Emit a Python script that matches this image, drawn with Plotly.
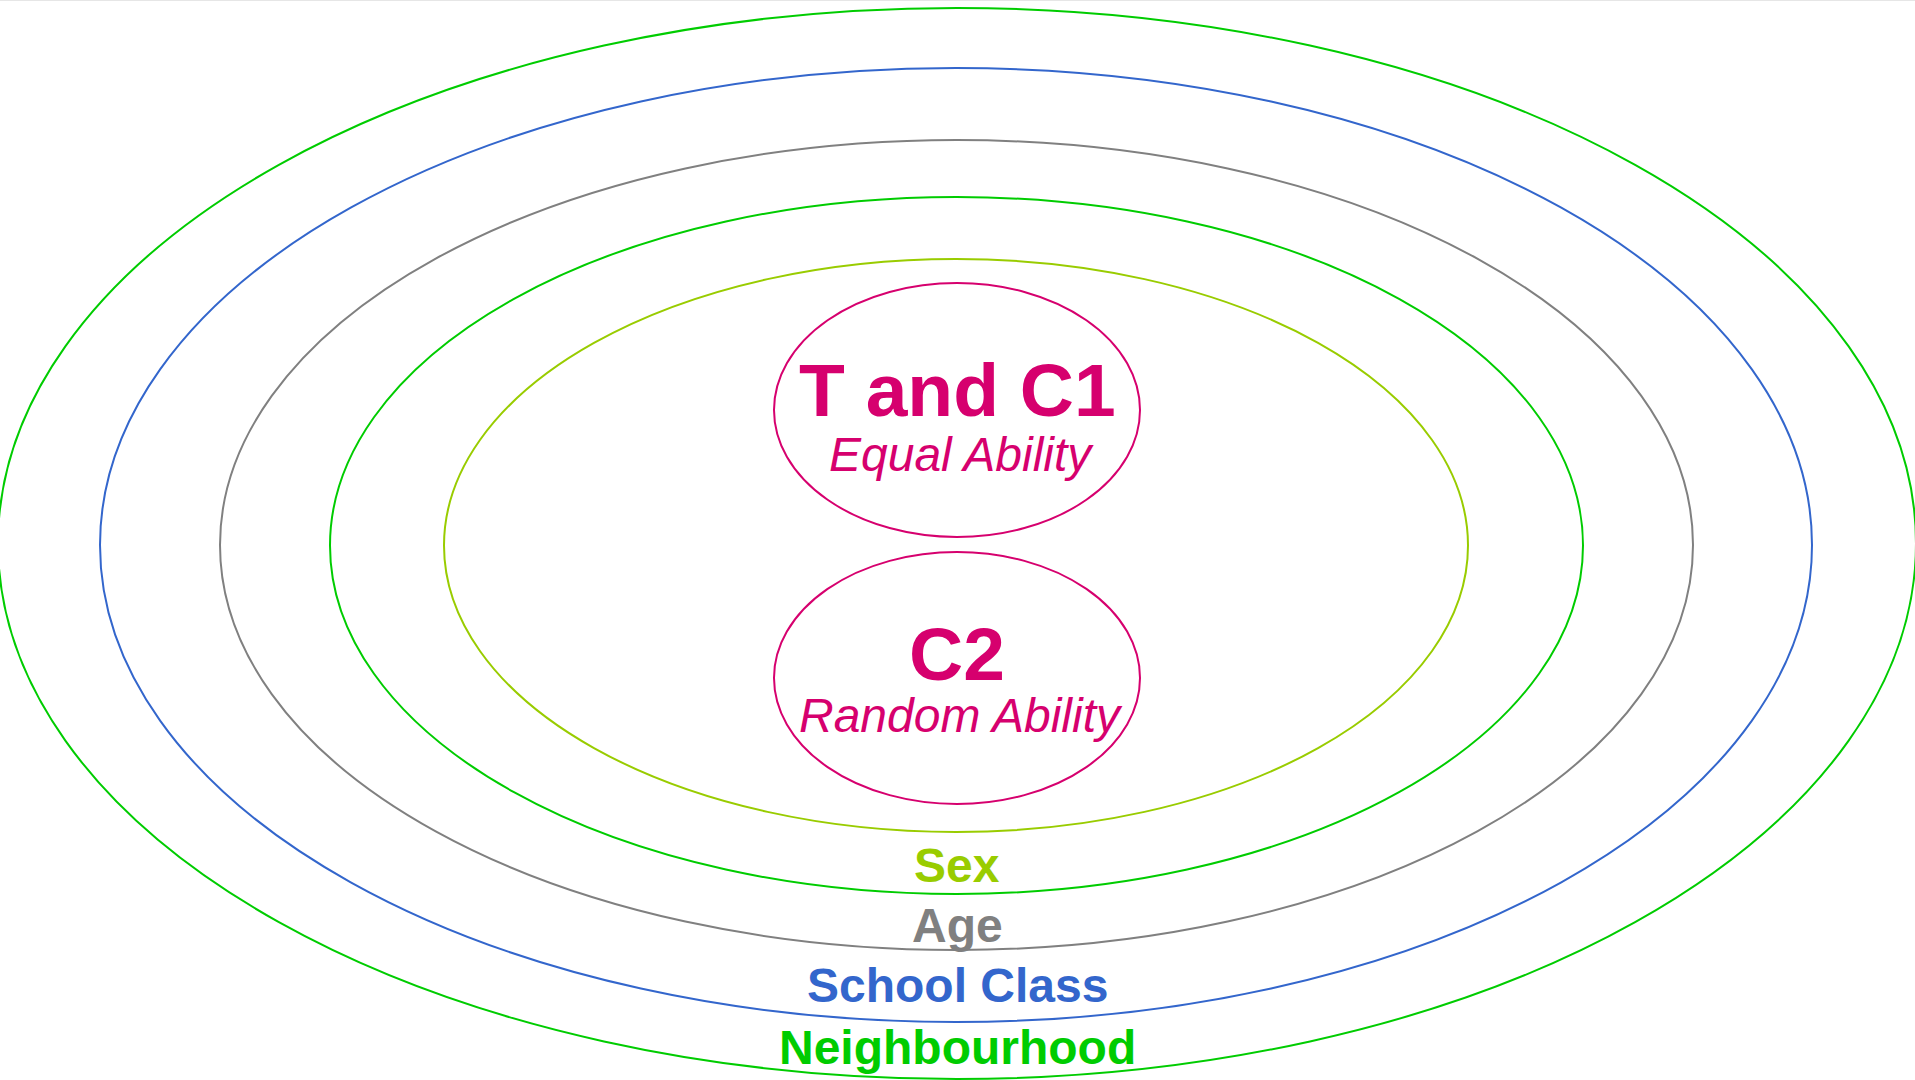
import plotly.graph_objects as go

# Nested context rings (outermost first), in pixel-like data coordinates
ring_colors = ["#00CC00", "#3366CC", "#808080", "#00CC00", "#99CC00"]
ring_x0 = [-2, 100, 220, 330, 444]
ring_x1 = [1916, 1812, 1693, 1583, 1468]
ring_y0 = [8, 68, 140, 197, 259]
ring_y1 = [1079, 1022, 950, 894, 832]

# Ring labels
label_names = ["Neighbourhood", "School Class", "Age", "Sex"]
label_colors = ["#00CC00", "#3366CC", "#808080", "#99CC00"]
label_y = [1047, 985, 925, 865]

# Inner groups
group_names = ["T and C1", "C2"]
group_subtitles = ["Equal Ability", "Random Ability"]
group_x0 = [774, 774]
group_x1 = [1140, 1140]
group_y0 = [283, 552]
group_y1 = [537, 804]
group_title_y = [390, 654]
group_sub_y = [454, 715]

pink = "#D6006E"
font_family = "Liberation Sans, Arial, sans-serif"
cx = 957

fig = go.Figure()
# invisible trace to establish axes
fig.add_trace(go.Scatter(x=[0, 1915], y=[0, 1080], mode="markers",
                         marker=dict(opacity=0), hoverinfo="skip", showlegend=False))

shapes = []
for i in range(len(ring_colors)):
    shapes.append(dict(type="circle", xref="x", yref="y",
                       x0=ring_x0[i], x1=ring_x1[i], y0=ring_y0[i], y1=ring_y1[i],
                       line=dict(color=ring_colors[i], width=2)))
for i in range(len(group_names)):
    shapes.append(dict(type="circle", xref="x", yref="y",
                       x0=group_x0[i], x1=group_x1[i], y0=group_y0[i], y1=group_y1[i],
                       line=dict(color=pink, width=2)))
# thin top border line
shapes.append(dict(type="line", xref="paper", yref="paper", x0=0, x1=1, y0=1, y1=1,
                   line=dict(color="#E6E6E6", width=2)))

annotations = []
for i in range(len(label_names)):
    annotations.append(dict(x=cx, y=label_y[i], xref="x", yref="y",
                            text=f"<b>{label_names[i]}</b>", showarrow=False,
                            xanchor="center", yanchor="middle",
                            font=dict(family=font_family, size=48, color=label_colors[i])))
for i in range(len(group_names)):
    annotations.append(dict(x=cx, y=group_title_y[i], xref="x", yref="y",
                            text=f"<b>{group_names[i]}</b>", showarrow=False,
                            xanchor="center", yanchor="middle",
                            font=dict(family=font_family, size=75, color=pink)))
    annotations.append(dict(x=cx + 4, y=group_sub_y[i], xref="x", yref="y",
                            text=f"<i>{group_subtitles[i]}</i>", showarrow=False,
                            xanchor="center", yanchor="middle",
                            font=dict(family=font_family, size=48, color=pink)))

fig.update_layout(
    width=1915, height=1080,
    margin=dict(l=0, r=0, t=0, b=0),
    paper_bgcolor="white", plot_bgcolor="white",
    xaxis=dict(range=[0, 1915], visible=False, fixedrange=True),
    yaxis=dict(range=[1080, 0], visible=False, fixedrange=True),
    shapes=shapes, annotations=annotations,
    showlegend=False,
)

fig.write_html("out.html", config={"displayModeBar": False},
               post_script="document.body.style.margin='0';document.body.style.overflow='hidden';")
